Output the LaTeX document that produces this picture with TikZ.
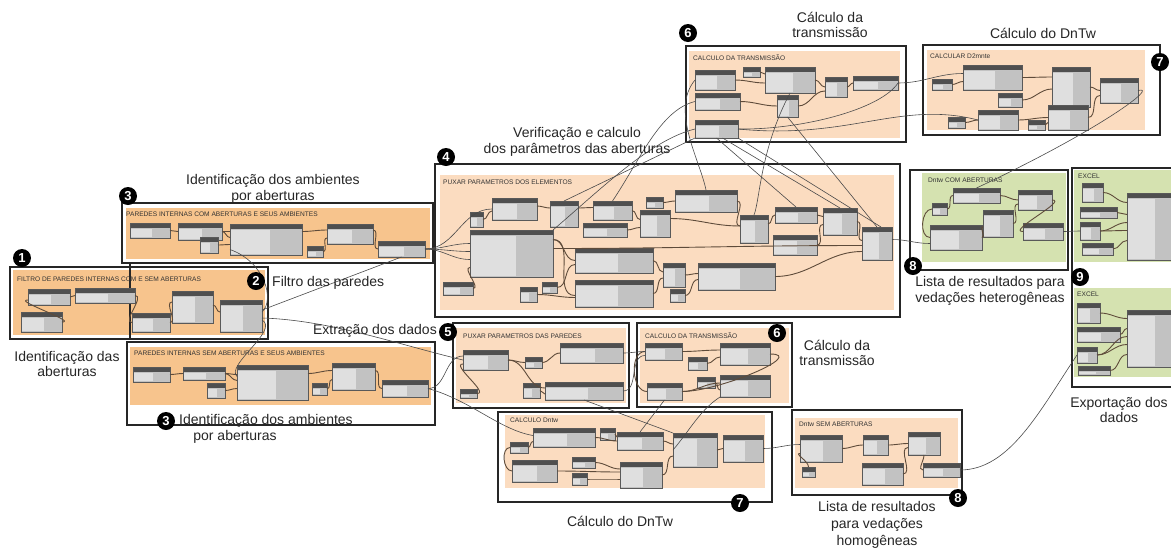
\documentclass[tikz,border=0pt]{standalone}
\usepackage{fontspec}
\setmainfont{Liberation Sans}
\usetikzlibrary{calc}
\definecolor{org}{HTML}{F7C48D}
\definecolor{pch}{HTML}{FBDCC0}
\definecolor{grn}{HTML}{D5E2B0}
\definecolor{hdr}{HTML}{4F4F4F}
\definecolor{bod}{HTML}{C2C2C2}
\definecolor{inp}{HTML}{DFDFDF}
\definecolor{wir}{HTML}{5E4B3A}
\definecolor{lng}{HTML}{4A4A4A}
\newcommand\dyn[5]{\node[dn,minimum width=#4pt,minimum height=#5pt] (#1) at (#2,#3) {};}
\begin{document}
\begin{tikzpicture}[x=1pt,y=-1pt,
 dn/.style={anchor=north west, inner sep=0pt, outer sep=0pt, fill=bod, draw=gray!70!black, line width=0.3pt,
  path picture={
   \fill[hdr] (path picture bounding box.north west) rectangle ([yshift=-4.5pt]path picture bounding box.north east);
   \fill[inp] ([xshift=1pt,yshift=-5.5pt]path picture bounding box.north west) rectangle ($(path picture bounding box.south west)!0.55!(path picture bounding box.south east)+(0,1.5pt)$);
  }},
 wire/.style={draw=wir, line width=0.9pt},
 lngw/.style={draw=lng, line width=0.6pt},
 frm/.style={draw=black!85, line width=1.3pt},
 lbl/.style={font=\fontsize{14}{15.5}\selectfont, align=center, text=black!85, inner sep=0pt},
 ttl/.style={anchor=west, font=\fontsize{6.6}{7}\selectfont, text=black!80, inner sep=0pt},
 num/.style={circle, fill=black, text=white, font=\bfseries\fontsize{13}{13}\selectfont, inner sep=0pt, minimum size=18pt}
]
\fill[white] (0,0) rectangle (1171,550);
\useasboundingbox (0,0) rectangle (1171,550);

% ---------------- frames and fills
\fill[org] (13,270) rectangle (265,335);
\draw[frm] (10,267) rectangle (268,339);
\draw[frm] (130,263) -- (130,339);
\fill[org] (126,208) rectangle (430,259);
\draw[frm] (122,203) rectangle (433,263);
\fill[org] (130,347) rectangle (431,405);
\draw[frm] (127,342) rectangle (435,425);
\fill[pch] (440,175) rectangle (894,310);
\draw[frm] (435,164) rectangle (900,317);
\fill[pch] (456,328) rectangle (626,403);
\draw[frm] (453,323) rectangle (629,408);
\fill[pch] (640,328) rectangle (789,403);
\draw[frm] (637,323) rectangle (792,407);
\fill[pch] (505,415) rectangle (765,488);
\draw[frm] (498,412) rectangle (772,502);
\fill[pch] (795,418) rectangle (958,488);
\draw[frm] (792,410) rectangle (962,495);
\fill[pch] (689,51) rectangle (900,138);
\draw[frm] (686,46) rectangle (906,142);
\fill[pch] (927,50) rectangle (1145,130);
\draw[frm] (923,45) rectangle (1160,135);
\fill[grn] (922,173) rectangle (1066,262);
\draw[frm] (910,170) rectangle (1068,270);
\fill[grn] (1074,170) rectangle (1171,262);
\fill[grn] (1074,288) rectangle (1171,377);
\draw[frm] (1072,168) rectangle (1180,387);

% ---------------- group titles
\node[ttl] (t1) at (17,279) {FILTRO DE PAREDES INTERNAS COM E SEM ABERTURAS};
\node[ttl] (t3) at (126,214) {PAREDES INTERNAS COM ABERTURAS E SEUS AMBIENTES};
\node[ttl] (t3b) at (134,353) {PAREDES INTERNAS SEM ABERTURAS E SEUS AMBIENTES};
\node[ttl] (t4) at (443,182) {PUXAR PARAMETROS DOS ELEMENTOS};
\node[ttl] (t5) at (463,336) {PUXAR PARAMETROS DAS PAREDES};
\node[ttl] (t6b) at (645,336) {CALCULO DA TRANSMISSÃO};
\node[ttl] (t7b) at (510,420) {CALCULO Dntw};
\node[ttl] (t8b) at (799,424) {Dntw SEM ABERTURAS};
\node[ttl] (t6t) at (693,58) {CALCULO DA TRANSMISSÃO};
\node[ttl] (t7t) at (930,56) {CALCULAR D2mnte};
\node[ttl] (t8t) at (928,180) {Dntw COM ABERTURAS};
\node[ttl] (t9a) at (1078,176) {EXCEL};
\node[ttl] (t9b) at (1077,294) {EXCEL};

% ---------------- dynamo nodes
% frame 1
\dyn{f1a}{28}{289}{42}{16}
\dyn{f1b}{75}{288}{60}{15}
\dyn{f1c}{21}{312}{41}{20}
\dyn{f1d}{132}{313}{38}{19}
\dyn{f1e}{172}{291}{41}{32}
\dyn{f1f}{220}{300}{42}{32}
% frame 3 top
\dyn{t3a}{130}{223}{40}{15}
\dyn{t3b}{178}{223}{44}{17}
\dyn{t3c}{200}{237}{18}{16}
\dyn{t3d}{230}{224}{72}{31}
\dyn{t3e}{307}{246}{16}{11}
\dyn{t3f}{327}{224}{46}{20}
\dyn{t3g}{378}{241}{47}{16}
% frame 3 bottom
\dyn{b3a}{133}{367}{37}{15}
\dyn{b3b}{183}{367}{42}{13}
\dyn{b3c}{207}{383}{18}{15}
\dyn{b3d}{237}{365}{71}{35}
\dyn{b3e}{312}{383}{15}{12}
\dyn{b3f}{332}{363}{43}{27}
\dyn{b3g}{382}{380}{46}{17}
% frame 4
\dyn{p4a}{492}{198}{45}{22}
\dyn{p4b}{470}{212}{13}{15}
\dyn{p4c}{470}{230}{83}{47}
\dyn{p4d}{443}{282}{30}{13}
\dyn{p4e}{550}{201}{28}{26}
\dyn{p4f}{593}{201}{39}{19}
\dyn{p4g}{583}{223}{44}{14}
\dyn{p4h}{640}{210}{30}{27}
\dyn{p4i}{646}{197}{17}{11}
\dyn{p4j}{675}{190}{62}{22}
\dyn{p4k}{575}{248}{78}{25}
\dyn{p4l}{575}{280}{78}{27}
\dyn{p4m}{520}{287}{17}{15}
\dyn{p4n}{542}{282}{15}{11}
\dyn{p4o}{663}{263}{22}{24}
\dyn{p4p}{670}{289}{15}{13}
\dyn{p4q}{698}{263}{77}{27}
\dyn{p4r}{740}{215}{28}{28}
\dyn{p4s}{775}{207}{42}{16}
\dyn{p4t}{773}{235}{44}{20}
\dyn{p4u}{823}{208}{34}{27}
\dyn{p4v}{862}{227}{30}{33}
% frame 5
\dyn{p5a}{463}{350}{45}{20}
\dyn{p5b}{460}{389}{17}{9}
\dyn{p5c}{525}{357}{17}{11}
\dyn{p5d}{523}{383}{17}{15}
\dyn{p5e}{560}{343}{63}{20}
\dyn{p5f}{545}{382}{78}{18}
% frame 6 bottom
\dyn{c6a}{645}{343}{37}{17}
\dyn{c6b}{688}{357}{19}{13}
\dyn{c6c}{720}{343}{50}{22}
\dyn{c6d}{647}{383}{35}{17}
\dyn{c6e}{697}{377}{18}{11}
\dyn{c6f}{720}{375}{50}{22}
% frame 7 bottom
\dyn{d7a}{533}{428}{62}{19}
\dyn{d7b}{510}{442}{18}{11}
\dyn{d7c}{512}{460}{45}{22}
\dyn{d7d}{572}{457}{23}{11}
\dyn{d7e}{572}{473}{15}{12}
\dyn{d7f}{600}{428}{15}{12}
\dyn{d7g}{617}{432}{46}{18}
\dyn{d7h}{620}{462}{42}{26}
\dyn{d7i}{673}{433}{44}{34}
\dyn{d7j}{723}{435}{40}{27}
% frame 8 bottom
\dyn{e8a}{800}{435}{42}{27}
\dyn{e8b}{863}{435}{25}{20}
\dyn{e8c}{862}{463}{41}{22}
\dyn{e8d}{908}{432}{32}{23}
\dyn{e8e}{923}{463}{37}{14}
\dyn{e8f}{802}{467}{13}{10}
% frame 6 top
\dyn{c6ta}{695}{70}{40}{20}
\dyn{c6tb}{743}{67}{17}{10}
\dyn{c6tc}{765}{67}{50}{26}
\dyn{c6td}{825}{77}{22}{20}
\dyn{c6te}{853}{76}{45}{14}
\dyn{c6tf}{695}{93}{45}{17}
\dyn{c6tg}{777}{95}{21}{22}
\dyn{c6th}{695}{120}{43}{18}
% frame 7 top
\dyn{d7ta}{963}{65}{59}{25}
\dyn{d7tb}{932}{79}{20}{11}
\dyn{d7tc}{998}{93}{24}{14}
\dyn{d7td}{1052}{67}{38}{40}
\dyn{d7te}{1100}{78}{38}{25}
\dyn{d7tf}{948}{117}{17}{11}
\dyn{d7tg}{978}{110}{40}{20}
\dyn{d7th}{1028}{120}{17}{10}
\dyn{d7ti}{1048}{105}{40}{25}
% frame 8 top
\dyn{e8ta}{953}{188}{47}{15}
\dyn{e8tb}{932}{203}{15}{12}
\dyn{e8tc}{930}{225}{52}{25}
\dyn{e8td}{983}{210}{30}{27}
\dyn{e8te}{1018}{190}{34}{20}
\dyn{e8tf}{1023}{223}{40}{17}
% frame 9
\dyn{x9a}{1082}{183}{21}{19}
\dyn{x9b}{1080}{207}{37}{11}
\dyn{x9c}{1080}{222}{20}{18}
\dyn{x9d}{1082}{243}{31}{12}
\dyn{x9e}{1127}{193}{50}{67}
\dyn{x9f}{1077}{303}{23}{20}
\dyn{x9g}{1077}{327}{43}{15}
\dyn{x9h}{1077}{347}{20}{16}
\dyn{x9i}{1078}{366}{32}{9}
\dyn{x9j}{1127}{310}{50}{57}

% ---------------- wires inside groups
\draw[wire] (f1c.east) to[out=0,in=180] ([yshift=-3pt]f1a.west);
\draw[wire] (f1a.east) to[out=0,in=180] (f1b.west);
\draw[wire] (f1b.east) to[out=0,in=180] (f1d.west);
\draw[wire] (f1d.east) to[out=0,in=180] ([yshift=5pt]f1e.west);
\draw[wire] ([yshift=2pt]f1e.east) to[out=0,in=180] ([yshift=4pt]f1f.west);
\draw[wire] (t3a.east) to[out=0,in=180] (t3b.west);
\draw[wire] (t3b.east) to[out=0,in=180] ([yshift=8pt]t3d.west);
\draw[wire] (t3b.east) to[out=0,in=180] ([yshift=2pt]t3d.west);
\draw[wire] (t3c.east) to[out=0,in=180] ([yshift=-5pt]t3d.west);
\draw[wire] ([yshift=8pt]t3d.east) to[out=0,in=180] ([yshift=4pt]t3f.west);
\draw[wire] (t3e.east) to[out=0,in=180] ([yshift=-4pt]t3f.west);
\draw[wire] ([yshift=4pt]t3f.east) to[out=0,in=180] (t3g.west);
\draw[wire] (b3a.east) to[out=0,in=180] (b3b.west);
\draw[wire] (b3b.east) to[out=0,in=180] ([yshift=8pt]b3d.west);
\draw[wire] (b3b.east) to[out=0,in=180] ([yshift=2pt]b3d.west);
\draw[wire] (b3c.east) to[out=0,in=180] ([yshift=-6pt]b3d.west);
\draw[wire] ([yshift=9pt]b3d.east) to[out=0,in=180] ([yshift=6pt]b3f.west);
\draw[wire] (b3e.east) to[out=0,in=180] ([yshift=-3pt]b3f.west);
\draw[wire] ([yshift=6pt]b3f.east) to[out=0,in=180] (b3g.west);
\draw[wire] (p4b.east) to[out=0,in=180] ([yshift=-2pt]p4a.west);
\draw[wire] ([yshift=3pt]p4a.east) to[out=0,in=180] ([yshift=6pt]p4e.west);
\draw[wire] (p4d.east) to[out=0,in=180] ([yshift=-14pt]p4c.west);
\draw[wire] ([yshift=14pt]p4c.east) to[out=0,in=180] (p4k.west);
\draw[wire] ([yshift=14pt]p4c.east) to[out=0,in=180] ([yshift=-2pt]p4l.west);
\draw[wire] ([yshift=6pt]p4e.east) to[out=0,in=180] ([yshift=3pt]p4f.west);
\draw[wire] (p4f.east) to[out=0,in=180] ([yshift=4pt]p4h.west);
\draw[wire] (p4g.east) to[out=0,in=180] ([yshift=-4pt]p4h.west);
\draw[wire] (p4i.east) to[out=0,in=180] (p4j.west);
\draw[wire] ([yshift=5pt]p4h.east) to[out=0,in=180] ([yshift=3pt]p4r.west);
\draw[wire] (p4j.east) to[out=0,in=180] ([yshift=3pt]p4r.west);
\draw[wire] (p4k.east) to[out=0,in=180] ([yshift=3pt]p4o.west);
\draw[wire] (p4l.east) to[out=0,in=180] ([yshift=-3pt]p4o.west);
\draw[wire] (p4m.east) to[out=0,in=180] ([yshift=-4pt]p4l.west);
\draw[wire] (p4n.east) to[out=0,in=180] ([yshift=-4pt]p4k.west);
\draw[wire] (p4o.east) to[out=0,in=180] ([yshift=3pt]p4q.west);
\draw[wire] (p4p.east) to[out=0,in=180] ([yshift=-3pt]p4q.west);
\draw[wire] ([yshift=5pt]p4r.east) to[out=0,in=180] (p4s.west);
\draw[wire] (p4s.east) to[out=0,in=180] ([yshift=5pt]p4u.west);
\draw[wire] (p4t.east) to[out=0,in=180] ([yshift=-3pt]p4u.west);
\draw[wire] (p4q.east) to[out=0,in=180] ([yshift=-8pt]p4v.west);
\draw[wire] (p4u.east) to[out=0,in=180] ([yshift=3pt]p4v.west);
\draw[wire] ([yshift=5pt]p4c.east) to[out=0,in=180] ([yshift=-2pt]p4v.west);
\draw[wire] (p5b.east) to[out=0,in=180] ([yshift=-4pt]p5a.west);
\draw[wire] (p5a.east) to[out=0,in=180] (p5c.west);
\draw[wire] (p5a.east) to[out=0,in=180] ([yshift=3pt]p5f.west);
\draw[wire] (p5c.east) to[out=0,in=180] (p5e.west);
\draw[wire] (p5d.east) to[out=0,in=180] ([yshift=-3pt]p5f.west);
\draw[wire] (c6b.east) to[out=0,in=180] ([yshift=-3pt]c6c.west);
\draw[wire] (c6a.east) to[out=0,in=180] ([yshift=4pt]c6c.west);
\draw[wire] (c6d.east) to[out=0,in=180] ([yshift=3pt]c6f.west);
\draw[wire] (c6e.east) to[out=0,in=180] ([yshift=-4pt]c6f.west);
\draw[wire] (c6c.east) to[out=0,in=0] (c6d.east);
\draw[wire] (c6a.west) to[out=180,in=180] (c6d.west);
\draw[wire] (d7b.east) to[out=0,in=180] ([yshift=-4pt]d7a.west);
\draw[wire] (d7b.west) to[out=180,in=180] (d7c.west);
\draw[wire] (d7a.east) to[out=0,in=180] (d7g.west);
\draw[wire] (d7f.east) to[out=0,in=180] ([yshift=4pt]d7g.west);
\draw[wire] (d7c.east) to[out=0,in=180] ([yshift=3pt]d7h.west);
\draw[wire] (d7d.east) to[out=0,in=180] ([yshift=6pt]d7h.west);
\draw[wire] (d7e.east) to[out=0,in=180] ([yshift=-4pt]d7h.west);
\draw[wire] (d7g.east) to[out=0,in=180] ([yshift=6pt]d7i.west);
\draw[wire] (d7h.east) to[out=0,in=180] ([yshift=-6pt]d7i.west);
\draw[wire] (d7i.east) to[out=0,in=180] (d7j.west);
\draw[wire] (e8a.east) to[out=0,in=180] (e8b.west);
\draw[wire] (e8b.east) to[out=0,in=180] (e8d.west);
\draw[wire] (e8c.east) to[out=0,in=180] ([yshift=-4pt]e8d.west);
\draw[wire] (e8d.south) to[out=-90,in=180] (e8e.west);
\draw[wire] (e8f.north) to[out=90,in=180] ([yshift=-5pt]e8a.west);
\draw[wire] (c6ta.east) to[out=0,in=180] ([yshift=-3pt]c6tc.west);
\draw[wire] (c6tb.east) to[out=0,in=180] ([yshift=6pt]c6tc.west);
\draw[wire] (c6tc.east) to[out=0,in=180] (c6td.west);
\draw[wire] (c6td.east) to[out=0,in=180] (c6te.west);
\draw[wire] (c6tf.east) to[out=0,in=180] (c6tg.west);
\draw[wire] (c6tg.east) to[out=0,in=180] ([yshift=-4pt]c6td.west);
\draw[wire] (d7tb.east) to[out=0,in=180] ([yshift=-4pt]d7ta.west);
\draw[wire] (d7ta.east) to[out=0,in=180] ([yshift=10pt]d7td.west);
\draw[wire] (d7tc.east) to[out=0,in=180] ([yshift=-2pt]d7td.west);
\draw[wire] (d7td.east) to[out=0,in=180] (d7te.west);
\draw[wire] (d7ti.east) to[out=0,in=180] ([yshift=-5pt]d7te.west);
\draw[wire] (d7tf.east) to[out=0,in=180] (d7tg.west);
\draw[wire] (d7tg.east) to[out=0,in=180] (d7ti.west);
\draw[wire] (d7th.east) to[out=0,in=180] ([yshift=-5pt]d7ti.west);
\draw[wire] (e8tb.east) to[out=0,in=180] (e8ta.west);
\draw[wire] (e8tb.west) to[out=180,in=180] (e8tc.west);
\draw[wire] (e8ta.east) to[out=0,in=180] (e8te.west);
\draw[wire] (e8tc.east) to[out=0,in=180] ([yshift=-3pt]e8td.west);
\draw[wire] (e8td.east) to[out=0,in=180] ([yshift=-4pt]e8te.west);
\draw[wire] (e8te.east) to[out=0,in=180] (e8tf.west);
\draw[wire] (x9a.east) to[out=0,in=180] ([yshift=24pt]x9e.west);
\draw[wire] (x9b.east) to[out=0,in=180] ([yshift=12pt]x9e.west);
\draw[wire] (x9c.east) to[out=0,in=180] ([yshift=4pt]x9e.west);
\draw[wire] (x9c.east) to[out=0,in=180] ([yshift=-4pt]x9e.west);
\draw[wire] (x9d.east) to[out=0,in=180] ([yshift=-14pt]x9e.west);
\draw[wire] (x9f.east) to[out=0,in=180] ([yshift=20pt]x9j.west);
\draw[wire] (x9g.east) to[out=0,in=180] ([yshift=10pt]x9j.west);
\draw[wire] (x9h.east) to[out=0,in=180] ([yshift=2pt]x9j.west);
\draw[wire] (x9h.east) to[out=0,in=180] ([yshift=-6pt]x9j.west);
\draw[wire] (x9i.east) to[out=0,in=180] ([yshift=-16pt]x9j.west);

% ---------------- long connections between groups
\draw[lngw] ([yshift=4pt]f1f.east) .. controls (275,300) and (265,262) .. ([yshift=-10pt]t3d.west);
\draw[lngw] ([yshift=-4pt]f1f.east) .. controls (280,330) and (225,365) .. ([yshift=6pt]b3d.west);
\draw[lngw] ([yshift=-2pt]f1f.east) .. controls (330,320) and (400,345) .. (p5a.west);
\draw[lngw] (t3g.south) -- ([yshift=6pt]f1f.east);
\draw[lngw] (t3g.east) to[out=0,in=180] (p4a.west);
\draw[lngw] (t3g.east) to[out=0,in=180] ([yshift=10pt]p4c.west);
\draw[lngw] (t3g.east) to[out=0,in=180] ([yshift=2pt]p4c.west);
\draw[lngw] (t3g.east) to[out=0,in=180] ([yshift=-6pt]p4c.west);
\draw[lngw] (b3g.east) to[out=0,in=180] ([yshift=4pt]p5a.west);
\draw[lngw] (b3g.east) .. controls (470,400) and (500,430) .. ([yshift=2pt]d7a.west);
\draw[lngw] (p5e.east) to[out=0,in=180] (c6a.west);
\draw[lngw] (p5f.east) to[out=0,in=180] ([yshift=-4pt]c6a.west);
\draw[lngw] (p5f.south) -- (d7i.north west);
\draw[lngw] (c6d.south) -- (d7g.north);
\draw[lngw] (c6f.south west) .. controls (700,410) and (690,430) .. (d7i.west);
\draw[lngw] (d7j.east) to[out=0,in=180] ([yshift=4pt]e8a.west);
\draw[lngw] (e8e.east) .. controls (1010,470) and (1040,410) .. (x9h.west);
\draw[lngw] ([yshift=4pt]p4v.east) to[out=0,in=180] ([yshift=-6pt]e8tc.west);
\draw[lngw] (e8tf.east) to[out=0,in=180] (x9c.west);
\draw[lngw] (d7te.east) .. controls (1160,85) and (1100,130) .. (e8ta.north);
\draw[lngw] (c6th.south west) -- (p4e.north);
\draw[lngw] (c6th.south) -- (p4s.north);
\draw[lngw] ([xshift=6pt]c6th.south) -- (p4u.north);
\draw[lngw] (c6th.south east) -- ([xshift=4pt]p4v.north);
\draw[lngw] (c6tg.south) -- (p4v.north);
\draw[lngw] (c6tc.south) .. controls (760,150) and (760,200) .. (p4r.north);
\draw[lngw] (c6th.east) .. controls (800,130) and (880,110) .. (c6te.east);
\draw[lngw] (c6te.east) to[out=0,in=180] ([yshift=4pt]d7ta.west);
\draw[lngw] (c6th.east) .. controls (850,140) and (900,100) .. (d7tg.west);
\draw[lngw] (p4j.north) .. controls (700,160) and (670,110) .. (c6ta.west);
\draw[lngw] (p4f.north) .. controls (640,160) and (660,110) .. (c6tf.west);
\draw[lngw] (p4c.north east) .. controls (600,190) and (650,140) .. (c6th.west);

% ---------------- numbered markers
\node[num] (n1) at (22,258) {1};
\node[num] (n2) at (256,281) {2};
\node[num] (n3a) at (128,196) {3};
\node[num] (n3b) at (166,421) {3};
\node[num] (n4) at (446,157) {4};
\node[num] (n5) at (448,332) {5};
\node[num] (n6a) at (688,33) {6};
\node[num] (n6b) at (777,333) {6};
\node[num] (n7a) at (1160,62) {7};
\node[num] (n7b) at (740,503) {7};
\node[num] (n8a) at (913,266) {8};
\node[num] (n8b) at (958,498) {8};
\node[num] (n9) at (1080,277) {9};

% ---------------- explanatory labels
\node[lbl] (l1) at (67,364) {Identificação das\\aberturas};
\node[lbl, anchor=west] (l2) at (272,283) {Filtro das paredes};
\node[lbl] (l3a) at (273,189) {Identificação dos ambientes\\por aberturas};
\node[lbl, anchor=west] (l3b) at (179,421) {Identificação dos ambientes};
\node[lbl] (l3c) at (235,437) {por aberturas};
\node[lbl] (l4) at (577,142) {Verificação e calculo\\dos parâmetros das aberturas};
\node[lbl, anchor=east] (l5) at (437,331) {Extração dos dados};
\node[lbl] (l6a) at (830,25) {Cálculo da\\transmissão};
\node[lbl] (l6b) at (837,353) {Cálculo da\\transmissão};
\node[lbl] (l7a) at (1043,33) {Cálculo do DnTw};
\node[lbl] (l7b) at (620,521) {Cálculo do DnTw};
\node[lbl] (l8a) at (990,291) {Lista de resultados para\\vedações heterogêneas};
\node[lbl, font=\fontsize{14}{17}\selectfont] (l8b) at (877,525) {Lista de resultados\\para vedações\\homogêneas};
\node[lbl] (l9) at (1119,410) {Exportação dos\\dados};
\end{tikzpicture}
\end{document}
